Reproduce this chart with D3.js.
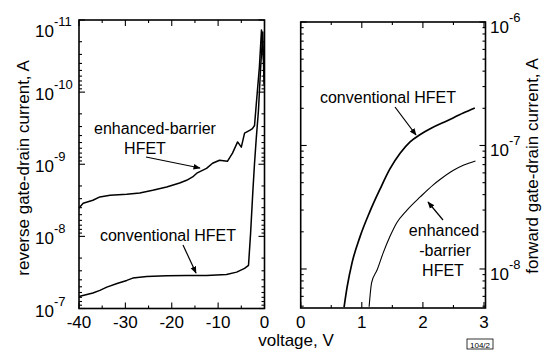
<!DOCTYPE html>
<html>
<head>
<meta charset="utf-8">
<title>gate-drain current</title>
<style>
  body { margin: 0; background: #fff; }
  svg { font-family: "Liberation Sans", Arial, Helvetica, sans-serif; }
  .frame { fill: none; stroke: #000; stroke-width: 1.6; }
  .tick { stroke: #000; stroke-width: 1.1; }
  .curve { fill: none; stroke: #000; stroke-linejoin: round; }
  .note { font-size: 16px; }
</style>
</head>
<body>
<script src="https://cdn.jsdelivr.net/npm/d3@7/dist/d3.min.js"></script>
<script>
// ---- data ----
// reverse bias panel (voltage in V, current in A)
var revEnhV = [-40, -39.1, -37, -35.5, -33.3, -29.7, -26.9, -24.1, -21.1, -18.3, -16.8, -15.5, -14.6, -12.5, -11.2, -9.7, -8.0, -6.9, -5.8, -5.0, -4.3, -3.2, -2.6, -2.15, -1.7, -1.1, -0.65, -0.2];
var revEnhI = [4.05e-9, 3.48e-9, 3.16e-9, 2.84e-9, 2.70e-9, 2.61e-9, 2.51e-9, 2.30e-9, 2.07e-9, 1.82e-9, 1.67e-9, 1.50e-9, 1.33e-9, 1.14e-9, 9.7e-10, 8.8e-10, 9.1e-10, 7.0e-10, 4.9e-10, 5.8e-10, 3.7e-10, 3.4e-10, 3.2e-10, 2.9e-10, 1.29e-10, 4.5e-11, 1.38e-11, 3.6e-11];
var revConvV = [-40, -38.3, -37, -35.5, -34, -31.8, -29.7, -28.4, -25.4, -21.1, -16.8, -12.5, -8.2, -6.0, -4.3, -3.45, -3.0, -2.5, -2.15, -1.8, -1.3, -0.86, -0.37, -0.1];
var revConvI = [6.8e-8, 6.4e-8, 6.1e-8, 5.6e-8, 5.06e-8, 4.5e-8, 4.08e-8, 3.79e-8, 3.6e-8, 3.52e-8, 3.48e-8, 3.48e-8, 3.37e-8, 3.13e-8, 2.78e-8, 2.53e-8, 9.1e-9, 2.3e-9, 9.7e-10, 4.6e-10, 1.78e-10, 4.9e-11, 1.47e-11, 7.9e-11];
// forward bias panel
var fwdConvV = [0.71, 0.76, 0.84, 0.97, 1.13, 1.30, 1.46, 1.63, 1.79, 1.95, 2.15, 2.39, 2.66, 2.85];
var fwdConvI = [4.92e-9, 7.15e-9, 1.12e-8, 1.82e-8, 2.90e-8, 4.45e-8, 6.46e-8, 8.69e-8, 1.07e-7, 1.22e-7, 1.39e-7, 1.58e-7, 1.83e-7, 2.01e-7];
var fwdEnhV = [1.12, 1.16, 1.25, 1.35, 1.46, 1.57, 1.74, 1.96, 2.17, 2.28, 2.50, 2.67, 2.86];
var fwdEnhI = [4.95e-9, 7.7e-9, 9.8e-9, 1.35e-8, 1.83e-8, 2.36e-8, 3.0e-8, 3.85e-8, 4.8e-8, 5.3e-8, 6.3e-8, 6.95e-8, 7.5e-8];

var revTicksX = [-40, -30, -20, -10, 0];
var revMinorX = [-35, -25, -15, -5];
var revDecades = [-11, -10, -9, -8, -7];
var fwdTicksX = [0, 1, 2, 3];
var fwdMinorX = [0.5, 1.5, 2.5];
var fwdDecades = [-6, -7, -8];

var W = 547, H = 350;
var svg = d3.select("body").append("svg").attr("width", W).attr("height", H);

var defs = svg.append("defs");
defs.append("marker").attr("id", "arr").attr("viewBox", "0 0 10 10")
    .attr("refX", 9).attr("refY", 5).attr("markerWidth", 6).attr("markerHeight", 6)
    .attr("orient", "auto")
  .append("path").attr("d", "M0,1 L10,5 L0,9 z").attr("fill", "#000");

// scales
var xL = d3.scaleLinear().domain([-40, 0]).range([79, 264.5]);
var yL = d3.scaleLog().domain([1e-11, 1e-7]).range([20, 308.5]);
var xR = d3.scaleLinear().domain([0, 3]).range([300.7, 484]);
var yR = d3.scaleLog().domain([1e-6, 4.83e-9]).range([22, 308]);
var xRmax = 485.5;

function zip(a, b) { return a.map(function (v, i) { return [v, b[i]]; }); }

function panel(xs, ys, x0, x1, majorX, minorX) {
  var g = svg.append("g");
  var top = ys.range()[0], bot = ys.range()[1];
  // log minor + major ticks on both vertical sides
  ys.ticks().forEach(function (t) {
    var major = Math.abs(Math.log10(t) - Math.round(Math.log10(t))) < 1e-6;
    var len = major ? 6 : 3;
    var y = ys(t);
    if (y < top - 0.5 || y > bot + 0.5) return;
    g.append("line").attr("class", "tick").attr("x1", x0).attr("x2", x0 + len).attr("y1", y).attr("y2", y);
    g.append("line").attr("class", "tick").attr("x1", x1).attr("x2", x1 - len).attr("y1", y).attr("y2", y);
  });
  majorX.forEach(function (t) {
    var x = xs(t);
    g.append("line").attr("class", "tick").attr("x1", x).attr("x2", x).attr("y1", bot).attr("y2", bot - 6);
    g.append("line").attr("class", "tick").attr("x1", x).attr("x2", x).attr("y1", top).attr("y2", top + 6);
  });
  minorX.forEach(function (t) {
    var x = xs(t);
    g.append("line").attr("class", "tick").attr("x1", x).attr("x2", x).attr("y1", bot).attr("y2", bot - 3);
    g.append("line").attr("class", "tick").attr("x1", x).attr("x2", x).attr("y1", top).attr("y2", top + 3);
  });
  g.append("rect").attr("class", "frame").attr("x", x0).attr("y", top)
    .attr("width", x1 - x0).attr("height", bot - top);
  // x tick labels
  majorX.forEach(function (t) {
    g.append("text").attr("x", xs(t)).attr("y", 328).attr("text-anchor", "middle")
      .attr("font-size", 17).text(t);
  });
  return g;
}

panel(xL, yL, 79, 264.5, revTicksX, revMinorX);
panel(xR, yR, 300.7, xRmax, fwdTicksX, fwdMinorX);

// decade labels 10^n
function decadeLabel(x, y, n) {
  var t = svg.append("text").attr("x", x).attr("y", y).attr("font-size", 17);
  t.append("tspan").text("10");
  t.append("tspan").attr("dy", -11).attr("font-size", 13).text("-" + Math.abs(n));
}
revDecades.forEach(function (n) {
  var y = Math.max(yL(Math.pow(10, n)) + 8, 37);
  decadeLabel(35, y, n);
});
fwdDecades.forEach(function (n) {
  decadeLabel(490, yR(Math.pow(10, n)) + 11, n);
});

// curves
var lineL = d3.line().x(function (d) { return xL(d[0]); }).y(function (d) { return yL(d[1]); });
var lineR = d3.line().x(function (d) { return xR(d[0]); }).y(function (d) { return yR(d[1]); })
  .curve(d3.curveMonotoneX);
svg.append("path").attr("class", "curve").attr("stroke-width", 1.5).attr("d", lineL(zip(revEnhV, revEnhI)));
svg.append("path").attr("class", "curve").attr("stroke-width", 1.5).attr("d", lineL(zip(revConvV, revConvI)));
svg.append("path").attr("class", "curve").attr("stroke-width", 1.7).attr("d", lineR(zip(fwdConvV, fwdConvI)));
svg.append("path").attr("class", "curve").attr("stroke-width", 1.1).attr("d", lineR(zip(fwdEnhV, fwdEnhI)));

// axis titles
svg.append("text").attr("transform", "translate(29,168) rotate(-90)")
  .attr("text-anchor", "middle").attr("font-size", 17).text("reverse gate-drain current, A");
svg.append("text").attr("transform", "translate(538,166) rotate(-90)")
  .attr("text-anchor", "middle").attr("font-size", 17).text("forward gate-drain current, A");
svg.append("text").attr("x", 296).attr("y", 346).attr("text-anchor", "middle")
  .attr("font-size", 17).text("voltage, V");

// annotations
function note(x, y, s) {
  svg.append("text").attr("class", "note").attr("x", x).attr("y", y).attr("text-anchor", "middle").text(s);
}
function arrow(x1, y1, x2, y2) {
  svg.append("line").attr("x1", x1).attr("y1", y1).attr("x2", x2).attr("y2", y2)
    .attr("stroke", "#000").attr("stroke-width", 1.2).attr("marker-end", "url(#arr)");
}
note(155, 134, "enhanced-barrier");
note(145, 154, "HFET");
arrow(146, 157, 200, 168);
note(168, 241, "conventional HFET");
arrow(183, 245, 196, 273);
note(388, 103, "conventional HFET");
arrow(395, 107, 416, 135);
note(444, 236, "enhanced");
note(445, 256, "-barrier");
note(443, 276, "HFET");
arrow(443, 220, 428, 202);

// figure id box
svg.append("rect").attr("x", 467).attr("y", 339).attr("width", 26).attr("height", 10)
  .attr("fill", "none").attr("stroke", "#000").attr("stroke-width", 0.8);
svg.append("text").attr("x", 480).attr("y", 347.5).attr("text-anchor", "middle")
  .attr("font-size", 8).text("104/2");
</script>
</body>
</html>
